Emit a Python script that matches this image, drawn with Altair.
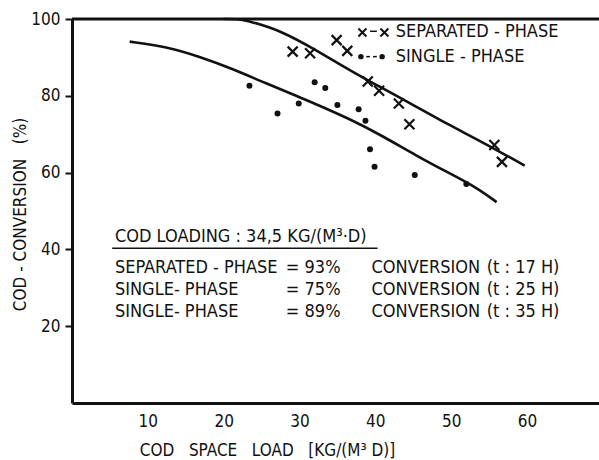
import altair as alt
import pandas as pd

# ---- data ----
sep_x = [29.1, 31.4, 34.9, 36.3, 39.0, 40.5, 43.1, 44.5, 55.7, 56.7]
sep_y = [91.5, 91.1, 94.5, 91.7, 83.7, 81.3, 78.0, 72.6, 67.2, 62.8]
single_x = [23.4, 27.1, 29.9, 32.0, 33.4, 35.0, 37.8, 38.7, 39.3, 39.9, 45.2, 52.0]
single_y = [82.6, 75.4, 78.0, 83.5, 82.0, 77.6, 76.5, 73.5, 66.1, 61.5, 59.4, 57.0]
sep_curve_x = [20.0, 22.1, 23.4, 27.4, 32.2, 36.6, 40.9, 45.4, 49.7, 54.1, 59.7]
sep_curve_y = [100.0, 100.0, 99.4, 97.1, 91.9, 86.7, 82.0, 77.2, 72.4, 68.0, 61.8]
single_curve_x = [7.6, 12.5, 16.8, 21.2, 25.6, 30.0, 32.2, 36.6, 41.0, 45.4, 49.7, 53.3, 56.0]
single_curve_y = [94.1, 92.8, 90.2, 87.0, 83.2, 79.7, 77.8, 74.0, 69.5, 64.4, 59.9, 56.2, 52.3]
x_ticks = [10, 20, 30, 40, 50, 60]
y_ticks = [20, 40, 60, 80, 100]

legend_labels = ["SEPARATED - PHASE", "SINGLE - PHASE"]
box_title = "COD LOADING : 34,5 KG/(M³·D)"
box_col1 = ["SEPARATED - PHASE", "SINGLE- PHASE", "SINGLE- PHASE"]
box_col2 = ["= 93%", "= 75%", "= 89%"]
box_col3 = ["CONVERSION", "CONVERSION", "CONVERSION"]
box_col4 = ["(t : 17 H)", "(t : 25 H)", "(t : 35 H)"]

FONT = "Liberation Sans Narrow, DejaVu Sans Condensed, Roboto Condensed, Arial Narrow, sans-serif"
INK = "#111111"
XPATH = "M-1,-1L1,1M-1,1L1,-1"
SP = "\u00a0\u00a0\u00a0"

xs = alt.Scale(domain=[0, 69.5], nice=False, zero=False)
ys = alt.Scale(domain=[0, 100], nice=False)

X = alt.X("x:Q", scale=xs,
          axis=alt.Axis(values=x_ticks, ticks=False, tickSize=0, grid=False,
                        title="COD" + SP + "SPACE" + SP + "LOAD" + SP + "[KG/(M³ D)]",
                        titleX=195, titleY=52, titleBaseline="alphabetic",
                        labelPadding=10, labelFlush=False))
Y = alt.Y("y:Q", scale=ys,
          axis=alt.Axis(values=y_ticks, grid=False, tickSize=7, tickWidth=2,
                        title="COD - CONVERSION\u00a0\u00a0\u00a0(%)",
                        titleX=-52, titleY=195, titleAngle=270,
                        titleBaseline="middle", titleAlign="center",
                        labelPadding=5))

sep_pts = pd.DataFrame({"x": sep_x, "y": sep_y})
sgl_pts = pd.DataFrame({"x": single_x, "y": single_y})
sep_curve = pd.DataFrame({"x": sep_curve_x, "y": sep_curve_y})
sgl_curve = pd.DataFrame({"x": single_curve_x, "y": single_curve_y})

l_sep_curve = alt.Chart(sep_curve).mark_line(color=INK, strokeWidth=2.6, interpolate="basis").encode(x=X, y=Y)
l_sgl_curve = alt.Chart(sgl_curve).mark_line(color=INK, strokeWidth=2.6, interpolate="basis").encode(x=X, y=Y)
l_sep_pts = alt.Chart(sep_pts).mark_point(shape=XPATH, size=100, filled=False, stroke=INK,
                                         strokeWidth=2.2, opacity=1).encode(x=X, y=Y)
l_sgl_pts = alt.Chart(sgl_pts).mark_circle(size=36, color=INK, opacity=1).encode(x=X, y=Y)

top_border = alt.Chart().mark_rule(color=INK, strokeWidth=3).encode(y=alt.datum(100))

# manual legend (top right)
leg_sym_x = pd.DataFrame({"x": [38.3, 41.2], "y": [96.5, 96.5]})
leg_sym_d = pd.DataFrame({"x": [38.1, 40.9], "y": [90.2, 90.2]})
leg_x = alt.Chart(leg_sym_x).mark_point(shape=XPATH, size=64, filled=False, stroke=INK,
                                        strokeWidth=2, opacity=1).encode(x=X, y=Y)
leg_x_dash = alt.Chart().mark_rule(color=INK, strokeWidth=1.5).encode(
    x=alt.datum(39.3), x2=alt.datum(40.2), y=alt.datum(96.8))
leg_d = alt.Chart(leg_sym_d).mark_circle(size=30, color=INK, opacity=1).encode(x=X, y=Y)
leg_d_dash1 = alt.Chart().mark_rule(color=INK, strokeWidth=1.5).encode(
    x=alt.datum(38.8), x2=alt.datum(39.3), y=alt.datum(90.2))
leg_d_dash2 = alt.Chart().mark_rule(color=INK, strokeWidth=1.5).encode(
    x=alt.datum(39.7), x2=alt.datum(40.2), y=alt.datum(90.2))
leg_text = alt.Chart(pd.DataFrame({"t": legend_labels, "x": [42.7, 42.7], "y": [96.5, 90.2]})).mark_text(
    align="left", baseline="middle", font=FONT, fontSize=18, color=INK
).encode(x=X, y=Y, text="t:N")

# annotation box
box_rows_y = [33.8, 28.1, 22.5]
rows = []
for i in range(3):
    rows.append({"t": box_col1[i], "x": 5.66, "y": box_rows_y[i]})
    rows.append({"t": box_col2[i], "x": 28.2, "y": box_rows_y[i]})
    rows.append({"t": box_col3[i], "x": 39.5, "y": box_rows_y[i]})
    rows.append({"t": box_col4[i], "x": 54.7, "y": box_rows_y[i]})
rows.append({"t": box_title, "x": 5.66, "y": 42.0})
box_text = alt.Chart(pd.DataFrame(rows)).mark_text(
    align="left", baseline="alphabetic", font=FONT, fontSize=18, color=INK
).encode(x=X, y=Y, text="t:N")
underline = alt.Chart().mark_rule(color=INK, strokeWidth=1.5).encode(
    x=alt.datum(5.3), x2=alt.datum(40.3), y=alt.datum(40.3))

chart = alt.layer(
    top_border, l_sep_curve, l_sgl_curve, l_sep_pts, l_sgl_pts,
    leg_x, leg_x_dash, leg_d, leg_d_dash1, leg_d_dash2, leg_text,
    box_text, underline
).properties(
    width=527, height=384,
    autosize=alt.AutoSizeParams(type="none"),
    padding={"left": 72, "top": 19, "right": 0, "bottom": 57},
    background="white",
).configure_view(stroke=None).configure_axis(
    domainColor=INK, domainWidth=3, tickColor=INK, labelColor=INK, titleColor=INK,
    labelFont=FONT, titleFont=FONT, labelFontSize=17, titleFontSize=17,
    labelFontWeight="normal", titleFontWeight="normal",
)

chart.save("out.html", embed_options={"renderer": "svg", "actions": False})
